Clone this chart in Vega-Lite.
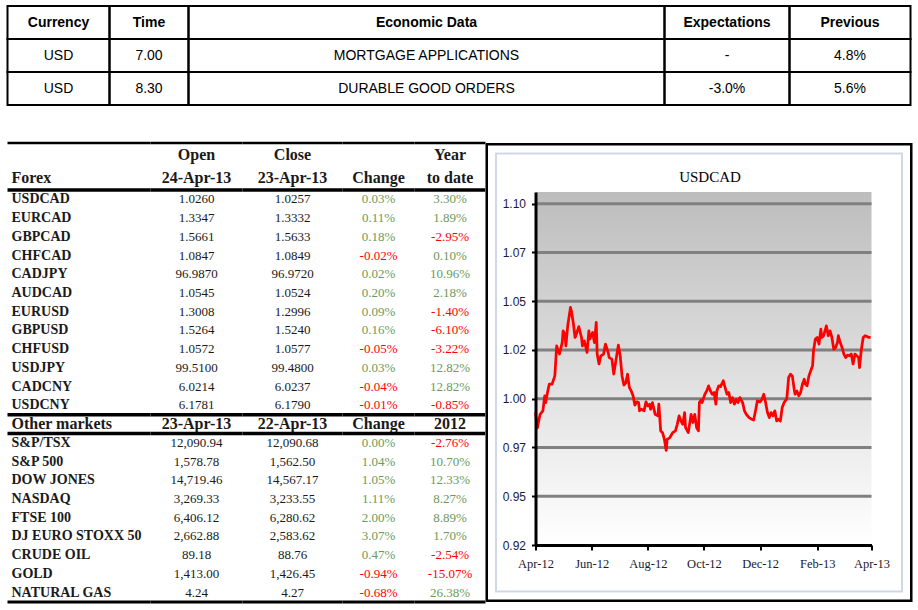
{
  "$schema": "https://vega.github.io/schema/vega-lite/v6.json",
  "background": "white",
  "padding": {"left": 5.5, "top": 5, "right": 0, "bottom": 0},
  "spacing": 35,
  "config": {"view": {"stroke": null}},
  "datasets": {
    "econ": [
      {"r": 0, "currency": "Currency", "time": "Time", "data": "Economic Data", "exp": "Expectations", "prev": "Previous"},
      {"r": 1, "currency": "USD", "time": "7.00", "data": "MORTGAGE APPLICATIONS", "exp": "-", "prev": "4.8%"},
      {"r": 2, "currency": "USD", "time": "8.30", "data": "DURABLE GOOD ORDERS", "exp": "-3.0%", "prev": "5.6%"}
    ],
    "head": [
      {"line": 1, "name": "", "open": "Open", "close": "Close", "chg": "", "ytd": "Year"},
      {"line": 2, "name": "Forex", "open": "24-Apr-13", "close": "23-Apr-13", "chg": "Change", "ytd": "to date"}
    ],
    "fx": [
      {"name": "USDCAD", "open": "1.0260", "close": "1.0257", "chg": "0.03%", "ytd": "3.30%"},
      {"name": "EURCAD", "open": "1.3347", "close": "1.3332", "chg": "0.11%", "ytd": "1.89%"},
      {"name": "GBPCAD", "open": "1.5661", "close": "1.5633", "chg": "0.18%", "ytd": "-2.95%"},
      {"name": "CHFCAD", "open": "1.0847", "close": "1.0849", "chg": "-0.02%", "ytd": "0.10%"},
      {"name": "CADJPY", "open": "96.9870", "close": "96.9720", "chg": "0.02%", "ytd": "10.96%"},
      {"name": "AUDCAD", "open": "1.0545", "close": "1.0524", "chg": "0.20%", "ytd": "2.18%"},
      {"name": "EURUSD", "open": "1.3008", "close": "1.2996", "chg": "0.09%", "ytd": "-1.40%"},
      {"name": "GBPUSD", "open": "1.5264", "close": "1.5240", "chg": "0.16%", "ytd": "-6.10%"},
      {"name": "CHFUSD", "open": "1.0572", "close": "1.0577", "chg": "-0.05%", "ytd": "-3.22%"},
      {"name": "USDJPY", "open": "99.5100", "close": "99.4800", "chg": "0.03%", "ytd": "12.82%"},
      {"name": "CADCNY", "open": "6.0214", "close": "6.0237", "chg": "-0.04%", "ytd": "12.82%"},
      {"name": "USDCNY", "open": "6.1781", "close": "6.1790", "chg": "-0.01%", "ytd": "-0.85%"},
      {"name": "Other markets", "open": "23-Apr-13", "close": "22-Apr-13", "chg": "Change", "ytd": "2012"},
      {"name": "S&P/TSX", "open": "12,090.94", "close": "12,090.68", "chg": "0.00%", "ytd": "-2.76%"},
      {"name": "S&P 500", "open": "1,578.78", "close": "1,562.50", "chg": "1.04%", "ytd": "10.70%"},
      {"name": "DOW JONES", "open": "14,719.46", "close": "14,567.17", "chg": "1.05%", "ytd": "12.33%"},
      {"name": "NASDAQ", "open": "3,269.33", "close": "3,233.55", "chg": "1.11%", "ytd": "8.27%"},
      {"name": "FTSE 100", "open": "6,406.12", "close": "6,280.62", "chg": "2.00%", "ytd": "8.89%"},
      {"name": "DJ EURO STOXX 50", "open": "2,662.88", "close": "2,583.62", "chg": "3.07%", "ytd": "1.70%"},
      {"name": "CRUDE OIL", "open": "89.18", "close": "88.76", "chg": "0.47%", "ytd": "-2.54%"},
      {"name": "GOLD", "open": "1,413.00", "close": "1,426.45", "chg": "-0.94%", "ytd": "-15.07%"},
      {"name": "NATURAL GAS", "open": "4.24", "close": "4.27", "chg": "-0.68%", "ytd": "26.38%"}
    ],
    "grid": [{"g": 0.95}, {"g": 0.975}, {"g": 1.0}, {"g": 1.025}, {"g": 1.05}, {"g": 1.075}, {"g": 1.1}],
    "one": [{}],
    "usdcad": [
      {"d": "2012-04-24", "v": 0.993}, {"d": "2012-04-26", "v": 0.985}, {"d": "2012-04-29", "v": 0.992}, {"d": "2012-05-02", "v": 0.9938},
      {"d": "2012-05-04", "v": 1.0015}, {"d": "2012-05-05", "v": 0.998}, {"d": "2012-05-07", "v": 1.0032}, {"d": "2012-05-09", "v": 1.0075},
      {"d": "2012-05-12", "v": 1.0075}, {"d": "2012-05-15", "v": 1.0117}, {"d": "2012-05-17", "v": 1.0271}, {"d": "2012-05-20", "v": 1.0229},
      {"d": "2012-05-23", "v": 1.0288}, {"d": "2012-05-24", "v": 1.0348}, {"d": "2012-05-26", "v": 1.0331}, {"d": "2012-05-27", "v": 1.0271},
      {"d": "2012-05-29", "v": 1.0374}, {"d": "2012-06-01", "v": 1.0468}, {"d": "2012-06-02", "v": 1.0451}, {"d": "2012-06-04", "v": 1.0391},
      {"d": "2012-06-06", "v": 1.0314}, {"d": "2012-06-08", "v": 1.034}, {"d": "2012-06-10", "v": 1.037}, {"d": "2012-06-13", "v": 1.0314},
      {"d": "2012-06-14", "v": 1.0271}, {"d": "2012-06-16", "v": 1.0297}, {"d": "2012-06-19", "v": 1.0237}, {"d": "2012-06-21", "v": 1.0348},
      {"d": "2012-06-22", "v": 1.0306}, {"d": "2012-06-25", "v": 1.034}, {"d": "2012-06-27", "v": 1.0288}, {"d": "2012-06-29", "v": 1.0391},
      {"d": "2012-06-30", "v": 1.0229}, {"d": "2012-07-02", "v": 1.0178}, {"d": "2012-07-04", "v": 1.022}, {"d": "2012-07-07", "v": 1.0229},
      {"d": "2012-07-09", "v": 1.028}, {"d": "2012-07-12", "v": 1.0237}, {"d": "2012-07-13", "v": 1.0211}, {"d": "2012-07-16", "v": 1.0203},
      {"d": "2012-07-18", "v": 1.0126}, {"d": "2012-07-20", "v": 1.0186}, {"d": "2012-07-23", "v": 1.0275}, {"d": "2012-07-25", "v": 1.022},
      {"d": "2012-07-27", "v": 1.0117}, {"d": "2012-07-29", "v": 1.007}, {"d": "2012-07-31", "v": 1.008}, {"d": "2012-08-02", "v": 1.0126},
      {"d": "2012-08-04", "v": 1.0057}, {"d": "2012-08-06", "v": 1.004}, {"d": "2012-08-08", "v": 1.0015}, {"d": "2012-08-10", "v": 0.9967},
      {"d": "2012-08-12", "v": 0.9984}, {"d": "2012-08-14", "v": 0.998}, {"d": "2012-08-15", "v": 0.9938}, {"d": "2012-08-17", "v": 0.9946},
      {"d": "2012-08-20", "v": 0.9938}, {"d": "2012-08-22", "v": 0.9984}, {"d": "2012-08-24", "v": 0.9963}, {"d": "2012-08-26", "v": 0.9972},
      {"d": "2012-08-27", "v": 0.9946}, {"d": "2012-08-29", "v": 0.998}, {"d": "2012-09-01", "v": 0.992}, {"d": "2012-09-04", "v": 0.9912},
      {"d": "2012-09-05", "v": 0.9972}, {"d": "2012-09-07", "v": 0.9835}, {"d": "2012-09-09", "v": 0.9826}, {"d": "2012-09-11", "v": 0.9792},
      {"d": "2012-09-13", "v": 0.9735}, {"d": "2012-09-14", "v": 0.9792}, {"d": "2012-09-17", "v": 0.9801}, {"d": "2012-09-20", "v": 0.9826},
      {"d": "2012-09-23", "v": 0.9835}, {"d": "2012-09-25", "v": 0.9869}, {"d": "2012-09-27", "v": 0.9912}, {"d": "2012-09-29", "v": 0.9886},
      {"d": "2012-10-01", "v": 0.9869}, {"d": "2012-10-03", "v": 0.9929}, {"d": "2012-10-04", "v": 0.9852}, {"d": "2012-10-07", "v": 0.9826},
      {"d": "2012-10-10", "v": 0.992}, {"d": "2012-10-12", "v": 0.9878}, {"d": "2012-10-14", "v": 0.992}, {"d": "2012-10-16", "v": 0.9852},
      {"d": "2012-10-18", "v": 0.9835}, {"d": "2012-10-19", "v": 0.998}, {"d": "2012-10-21", "v": 0.9994}, {"d": "2012-10-22", "v": 0.998},
      {"d": "2012-10-25", "v": 1.0023}, {"d": "2012-10-27", "v": 1.004}, {"d": "2012-10-29", "v": 1.0066}, {"d": "2012-10-31", "v": 1.004},
      {"d": "2012-11-02", "v": 1.0023}, {"d": "2012-11-04", "v": 1.0032}, {"d": "2012-11-06", "v": 0.9972}, {"d": "2012-11-07", "v": 1.004},
      {"d": "2012-11-09", "v": 1.0066}, {"d": "2012-11-11", "v": 1.0062}, {"d": "2012-11-14", "v": 1.0092}, {"d": "2012-11-16", "v": 1.0057},
      {"d": "2012-11-18", "v": 1.0023}, {"d": "2012-11-20", "v": 1.0032}, {"d": "2012-11-22", "v": 0.998}, {"d": "2012-11-24", "v": 1.0006},
      {"d": "2012-11-26", "v": 0.9972}, {"d": "2012-11-28", "v": 0.9997}, {"d": "2012-11-30", "v": 0.998}, {"d": "2012-12-02", "v": 1.0006},
      {"d": "2012-12-05", "v": 0.998}, {"d": "2012-12-07", "v": 0.9938}, {"d": "2012-12-09", "v": 0.992}, {"d": "2012-12-12", "v": 0.9903},
      {"d": "2012-12-15", "v": 0.9895}, {"d": "2012-12-17", "v": 0.9891}, {"d": "2012-12-19", "v": 0.9938}, {"d": "2012-12-21", "v": 0.9989},
      {"d": "2012-12-24", "v": 0.9984}, {"d": "2012-12-26", "v": 0.9997}, {"d": "2012-12-28", "v": 1.0023}, {"d": "2012-12-30", "v": 0.998},
      {"d": "2013-01-01", "v": 0.9929}, {"d": "2013-01-03", "v": 0.9903}, {"d": "2013-01-05", "v": 0.9929}, {"d": "2013-01-07", "v": 0.9912},
      {"d": "2013-01-09", "v": 0.9938}, {"d": "2013-01-11", "v": 0.9886}, {"d": "2013-01-13", "v": 0.9895}, {"d": "2013-01-15", "v": 0.9886},
      {"d": "2013-01-17", "v": 0.9955}, {"d": "2013-01-19", "v": 0.998}, {"d": "2013-01-22", "v": 1.0}, {"d": "2013-01-24", "v": 1.0109},
      {"d": "2013-01-26", "v": 1.0126}, {"d": "2013-01-28", "v": 1.0117}, {"d": "2013-01-30", "v": 1.0049}, {"d": "2013-01-31", "v": 1.0023},
      {"d": "2013-02-02", "v": 1.004}, {"d": "2013-02-04", "v": 1.0015}, {"d": "2013-02-06", "v": 1.0032}, {"d": "2013-02-08", "v": 1.0075},
      {"d": "2013-02-10", "v": 1.01}, {"d": "2013-02-11", "v": 1.0075}, {"d": "2013-02-13", "v": 1.0066}, {"d": "2013-02-15", "v": 1.0117},
      {"d": "2013-02-17", "v": 1.0143}, {"d": "2013-02-19", "v": 1.0169}, {"d": "2013-02-20", "v": 1.0246}, {"d": "2013-02-22", "v": 1.0306},
      {"d": "2013-02-24", "v": 1.0314}, {"d": "2013-02-26", "v": 1.028}, {"d": "2013-02-28", "v": 1.0357}, {"d": "2013-03-01", "v": 1.0314},
      {"d": "2013-03-03", "v": 1.0323}, {"d": "2013-03-06", "v": 1.0374}, {"d": "2013-03-08", "v": 1.0323}, {"d": "2013-03-10", "v": 1.0348},
      {"d": "2013-03-12", "v": 1.0314}, {"d": "2013-03-14", "v": 1.0254}, {"d": "2013-03-16", "v": 1.0263}, {"d": "2013-03-18", "v": 1.0288},
      {"d": "2013-03-19", "v": 1.0323}, {"d": "2013-03-21", "v": 1.0288}, {"d": "2013-03-23", "v": 1.0263}, {"d": "2013-03-25", "v": 1.0229},
      {"d": "2013-03-27", "v": 1.0211}, {"d": "2013-03-29", "v": 1.0224}, {"d": "2013-03-31", "v": 1.022}, {"d": "2013-04-02", "v": 1.0229},
      {"d": "2013-04-04", "v": 1.0178}, {"d": "2013-04-06", "v": 1.0229}, {"d": "2013-04-08", "v": 1.022}, {"d": "2013-04-10", "v": 1.0211},
      {"d": "2013-04-11", "v": 1.016}, {"d": "2013-04-13", "v": 1.0254}, {"d": "2013-04-15", "v": 1.0314}, {"d": "2013-04-17", "v": 1.0323},
      {"d": "2013-04-19", "v": 1.032}, {"d": "2013-04-21", "v": 1.0314}, {"d": "2013-04-23", "v": 1.0314}
    ]
  },
  "vconcat": [
    {
      "spacing": 0,
      "bounds": "flush",
      "hconcat": [
        {"width": 102, "height": 99, "data": {"name": "econ"},
         "encoding": {"y": {"field": "r", "type": "ordinal", "scale": {"paddingInner": 0, "paddingOuter": 0}, "axis": null}},
         "layer": [
           {"mark": {"type": "rect", "filled": false, "stroke": "#000", "strokeWidth": 2}},
           {"transform": [{"filter": "datum.r === 0"}], "mark": {"type": "text", "font": "Liberation Sans", "fontSize": 14, "fontWeight": "bold", "color": "#000"}, "encoding": {"text": {"field": "currency"}}},
           {"transform": [{"filter": "datum.r > 0"}], "mark": {"type": "text", "font": "Liberation Sans", "fontSize": 14, "color": "#000"}, "encoding": {"text": {"field": "currency"}}}
         ]},
        {"width": 79, "height": 99, "data": {"name": "econ"},
         "encoding": {"y": {"field": "r", "type": "ordinal", "scale": {"paddingInner": 0, "paddingOuter": 0}, "axis": null}},
         "layer": [
           {"mark": {"type": "rect", "filled": false, "stroke": "#000", "strokeWidth": 2}},
           {"transform": [{"filter": "datum.r === 0"}], "mark": {"type": "text", "font": "Liberation Sans", "fontSize": 14, "fontWeight": "bold", "color": "#000"}, "encoding": {"text": {"field": "time"}}},
           {"transform": [{"filter": "datum.r > 0"}], "mark": {"type": "text", "font": "Liberation Sans", "fontSize": 14, "color": "#000"}, "encoding": {"text": {"field": "time"}}}
         ]},
        {"width": 476, "height": 99, "data": {"name": "econ"},
         "encoding": {"y": {"field": "r", "type": "ordinal", "scale": {"paddingInner": 0, "paddingOuter": 0}, "axis": null}},
         "layer": [
           {"mark": {"type": "rect", "filled": false, "stroke": "#000", "strokeWidth": 2}},
           {"transform": [{"filter": "datum.r === 0"}], "mark": {"type": "text", "font": "Liberation Sans", "fontSize": 14, "fontWeight": "bold", "color": "#000"}, "encoding": {"text": {"field": "data"}}},
           {"transform": [{"filter": "datum.r > 0"}], "mark": {"type": "text", "font": "Liberation Sans", "fontSize": 14, "color": "#000"}, "encoding": {"text": {"field": "data"}}}
         ]},
        {"width": 125, "height": 99, "data": {"name": "econ"},
         "encoding": {"y": {"field": "r", "type": "ordinal", "scale": {"paddingInner": 0, "paddingOuter": 0}, "axis": null}},
         "layer": [
           {"mark": {"type": "rect", "filled": false, "stroke": "#000", "strokeWidth": 2}},
           {"transform": [{"filter": "datum.r === 0"}], "mark": {"type": "text", "font": "Liberation Sans", "fontSize": 14, "fontWeight": "bold", "color": "#000"}, "encoding": {"text": {"field": "exp"}}},
           {"transform": [{"filter": "datum.r > 0"}], "mark": {"type": "text", "font": "Liberation Sans", "fontSize": 14, "color": "#000"}, "encoding": {"text": {"field": "exp"}}}
         ]},
        {"width": 121, "height": 99, "data": {"name": "econ"},
         "encoding": {"y": {"field": "r", "type": "ordinal", "scale": {"paddingInner": 0, "paddingOuter": 0}, "axis": null}},
         "layer": [
           {"mark": {"type": "rect", "filled": false, "stroke": "#000", "strokeWidth": 2}},
           {"transform": [{"filter": "datum.r === 0"}], "mark": {"type": "text", "font": "Liberation Sans", "fontSize": 14, "fontWeight": "bold", "color": "#000"}, "encoding": {"text": {"field": "prev"}}},
           {"transform": [{"filter": "datum.r > 0"}], "mark": {"type": "text", "font": "Liberation Sans", "fontSize": 14, "color": "#000"}, "encoding": {"text": {"field": "prev"}}}
         ]}
      ]
    },
    {
      "spacing": 0,
      "bounds": "flush",
      "hconcat": [
        {"width": 143, "height": 459,
         "resolve": {"scale": {"y": "independent"}, "axis": {"y": "independent"}},
         "layer": [
           {"data": {"name": "head"},
            "encoding": {"y": {"field": "line", "type": "ordinal", "scale": {"domain": [1, 2], "range": [0, 47], "paddingInner": 0, "paddingOuter": 0}, "axis": {"orient": "left", "labels": false, "ticks": false, "title": null, "grid": false, "domainColor": "#000", "domainWidth": 3}}},
            "layer": [
              {"mark": {"type": "text", "align": "left", "font": "Liberation Serif", "fontSize": 16, "fontWeight": "bold", "color": "#1a1a1a"}, "encoding": {"x": {"value": 4}, "text": {"field": "name"}}},
              {"transform": [{"filter": "datum.line === 1"}], "mark": {"type": "rule", "strokeWidth": 2.5, "color": "#000"}, "encoding": {"y": {"field": "line", "type": "ordinal", "bandPosition": 0, "axis": null}}},
              {"transform": [{"filter": "datum.line === 2"}], "mark": {"type": "rule", "strokeWidth": 3.5, "color": "#000"}, "encoding": {"y": {"field": "line", "type": "ordinal", "bandPosition": 1, "axis": null}}}
            ]},
           {"data": {"name": "fx"},
            "encoding": {"y": {"field": "name", "type": "ordinal", "scale": {"domain": ["USDCAD","EURCAD","GBPCAD","CHFCAD","CADJPY","AUDCAD","EURUSD","GBPUSD","CHFUSD","USDJPY","CADCNY","USDCNY","Other markets","S&P/TSX","S&P 500","DOW JONES","NASDAQ","FTSE 100","DJ EURO STOXX 50","CRUDE OIL","GOLD","NATURAL GAS"], "range": [47, 459], "paddingInner": 0, "paddingOuter": 0}, "axis": {"orient": "left", "labels": false, "ticks": false, "title": null, "grid": false, "domainColor": "#000", "domainWidth": 3}}},
            "layer": [
              {"transform": [{"filter": "datum.name !== 'Other markets'"}], "mark": {"type": "text", "align": "left", "font": "Liberation Serif", "fontSize": 14, "fontWeight": "bold", "color": "#1a1a1a"}, "encoding": {"x": {"value": 4}, "text": {"field": "name"}}},
              {"transform": [{"filter": "datum.name === 'Other markets'"}], "mark": {"type": "text", "align": "left", "font": "Liberation Serif", "fontSize": 16, "fontWeight": "bold", "color": "#1a1a1a"}, "encoding": {"x": {"value": 4}, "text": {"field": "name"}}},
              {"transform": [{"filter": "datum.name === 'Other markets'"}], "mark": {"type": "rule", "strokeWidth": 3.5, "color": "#000"}, "encoding": {"y": {"field": "name", "type": "ordinal", "bandPosition": 0, "axis": null}}},
              {"transform": [{"filter": "datum.name === 'Other markets'"}], "mark": {"type": "rule", "strokeWidth": 3.5, "color": "#000"}, "encoding": {"y": {"field": "name", "type": "ordinal", "bandPosition": 1, "axis": null}}},
              {"transform": [{"filter": "datum.name === 'NATURAL GAS'"}], "mark": {"type": "rule", "strokeWidth": 3, "color": "#000"}, "encoding": {"y": {"field": "name", "type": "ordinal", "bandPosition": 1, "axis": null}}}
            ]}
         ]},
        {"width": 92, "height": 459,
         "resolve": {"scale": {"y": "independent"}, "axis": {"y": "independent"}},
         "layer": [
           {"data": {"name": "head"},
            "encoding": {"y": {"field": "line", "type": "ordinal", "scale": {"domain": [1, 2], "range": [0, 47], "paddingInner": 0, "paddingOuter": 0}, "axis": null}},
            "layer": [
              {"mark": {"type": "text", "font": "Liberation Serif", "fontSize": 16, "fontWeight": "bold", "color": "#1a1a1a"}, "encoding": {"text": {"field": "open"}}},
              {"transform": [{"filter": "datum.line === 1"}], "mark": {"type": "rule", "strokeWidth": 2.5, "color": "#000"}, "encoding": {"y": {"field": "line", "type": "ordinal", "bandPosition": 0, "axis": null}}},
              {"transform": [{"filter": "datum.line === 2"}], "mark": {"type": "rule", "strokeWidth": 3.5, "color": "#000"}, "encoding": {"y": {"field": "line", "type": "ordinal", "bandPosition": 1, "axis": null}}}
            ]},
           {"data": {"name": "fx"},
            "encoding": {"y": {"field": "name", "type": "ordinal", "scale": {"domain": ["USDCAD","EURCAD","GBPCAD","CHFCAD","CADJPY","AUDCAD","EURUSD","GBPUSD","CHFUSD","USDJPY","CADCNY","USDCNY","Other markets","S&P/TSX","S&P 500","DOW JONES","NASDAQ","FTSE 100","DJ EURO STOXX 50","CRUDE OIL","GOLD","NATURAL GAS"], "range": [47, 459], "paddingInner": 0, "paddingOuter": 0}, "axis": null}},
            "layer": [
              {"transform": [{"filter": "datum.name !== 'Other markets'"}], "mark": {"type": "text", "font": "Liberation Serif", "fontSize": 13, "color": "#1a1a1a"}, "encoding": {"text": {"field": "open"}}},
              {"transform": [{"filter": "datum.name === 'Other markets'"}], "mark": {"type": "text", "font": "Liberation Serif", "fontSize": 16, "fontWeight": "bold", "color": "#1a1a1a"}, "encoding": {"text": {"field": "open"}}},
              {"transform": [{"filter": "datum.name === 'Other markets'"}], "mark": {"type": "rule", "strokeWidth": 3.5, "color": "#000"}, "encoding": {"y": {"field": "name", "type": "ordinal", "bandPosition": 0, "axis": null}}},
              {"transform": [{"filter": "datum.name === 'Other markets'"}], "mark": {"type": "rule", "strokeWidth": 3.5, "color": "#000"}, "encoding": {"y": {"field": "name", "type": "ordinal", "bandPosition": 1, "axis": null}}},
              {"transform": [{"filter": "datum.name === 'NATURAL GAS'"}], "mark": {"type": "rule", "strokeWidth": 3, "color": "#000"}, "encoding": {"y": {"field": "name", "type": "ordinal", "bandPosition": 1, "axis": null}}}
            ]}
         ]},
        {"width": 100, "height": 459,
         "resolve": {"scale": {"y": "independent"}, "axis": {"y": "independent"}},
         "layer": [
           {"data": {"name": "head"},
            "encoding": {"y": {"field": "line", "type": "ordinal", "scale": {"domain": [1, 2], "range": [0, 47], "paddingInner": 0, "paddingOuter": 0}, "axis": null}},
            "layer": [
              {"mark": {"type": "text", "font": "Liberation Serif", "fontSize": 16, "fontWeight": "bold", "color": "#1a1a1a"}, "encoding": {"text": {"field": "close"}}},
              {"transform": [{"filter": "datum.line === 1"}], "mark": {"type": "rule", "strokeWidth": 2.5, "color": "#000"}, "encoding": {"y": {"field": "line", "type": "ordinal", "bandPosition": 0, "axis": null}}},
              {"transform": [{"filter": "datum.line === 2"}], "mark": {"type": "rule", "strokeWidth": 3.5, "color": "#000"}, "encoding": {"y": {"field": "line", "type": "ordinal", "bandPosition": 1, "axis": null}}}
            ]},
           {"data": {"name": "fx"},
            "encoding": {"y": {"field": "name", "type": "ordinal", "scale": {"domain": ["USDCAD","EURCAD","GBPCAD","CHFCAD","CADJPY","AUDCAD","EURUSD","GBPUSD","CHFUSD","USDJPY","CADCNY","USDCNY","Other markets","S&P/TSX","S&P 500","DOW JONES","NASDAQ","FTSE 100","DJ EURO STOXX 50","CRUDE OIL","GOLD","NATURAL GAS"], "range": [47, 459], "paddingInner": 0, "paddingOuter": 0}, "axis": null}},
            "layer": [
              {"transform": [{"filter": "datum.name !== 'Other markets'"}], "mark": {"type": "text", "font": "Liberation Serif", "fontSize": 13, "color": "#1a1a1a"}, "encoding": {"text": {"field": "close"}}},
              {"transform": [{"filter": "datum.name === 'Other markets'"}], "mark": {"type": "text", "font": "Liberation Serif", "fontSize": 16, "fontWeight": "bold", "color": "#1a1a1a"}, "encoding": {"text": {"field": "close"}}},
              {"transform": [{"filter": "datum.name === 'Other markets'"}], "mark": {"type": "rule", "strokeWidth": 3.5, "color": "#000"}, "encoding": {"y": {"field": "name", "type": "ordinal", "bandPosition": 0, "axis": null}}},
              {"transform": [{"filter": "datum.name === 'Other markets'"}], "mark": {"type": "rule", "strokeWidth": 3.5, "color": "#000"}, "encoding": {"y": {"field": "name", "type": "ordinal", "bandPosition": 1, "axis": null}}},
              {"transform": [{"filter": "datum.name === 'NATURAL GAS'"}], "mark": {"type": "rule", "strokeWidth": 3, "color": "#000"}, "encoding": {"y": {"field": "name", "type": "ordinal", "bandPosition": 1, "axis": null}}}
            ]}
         ]},
        {"width": 72, "height": 459,
         "resolve": {"scale": {"y": "independent"}, "axis": {"y": "independent"}},
         "layer": [
           {"data": {"name": "head"},
            "encoding": {"y": {"field": "line", "type": "ordinal", "scale": {"domain": [1, 2], "range": [0, 47], "paddingInner": 0, "paddingOuter": 0}, "axis": null}},
            "layer": [
              {"mark": {"type": "text", "font": "Liberation Serif", "fontSize": 16, "fontWeight": "bold", "color": "#1a1a1a"}, "encoding": {"text": {"field": "chg"}}},
              {"transform": [{"filter": "datum.line === 1"}], "mark": {"type": "rule", "strokeWidth": 2.5, "color": "#000"}, "encoding": {"y": {"field": "line", "type": "ordinal", "bandPosition": 0, "axis": null}}},
              {"transform": [{"filter": "datum.line === 2"}], "mark": {"type": "rule", "strokeWidth": 3.5, "color": "#000"}, "encoding": {"y": {"field": "line", "type": "ordinal", "bandPosition": 1, "axis": null}}}
            ]},
           {"data": {"name": "fx"},
            "encoding": {"y": {"field": "name", "type": "ordinal", "scale": {"domain": ["USDCAD","EURCAD","GBPCAD","CHFCAD","CADJPY","AUDCAD","EURUSD","GBPUSD","CHFUSD","USDJPY","CADCNY","USDCNY","Other markets","S&P/TSX","S&P 500","DOW JONES","NASDAQ","FTSE 100","DJ EURO STOXX 50","CRUDE OIL","GOLD","NATURAL GAS"], "range": [47, 459], "paddingInner": 0, "paddingOuter": 0}, "axis": null}},
            "layer": [
              {"transform": [{"filter": "datum.name !== 'Other markets'"}], "mark": {"type": "text", "font": "Liberation Serif", "fontSize": 13}, "encoding": {"text": {"field": "chg"}, "color": {"condition": {"test": "indexof(datum.chg, '-') === 0", "value": "#ff0000"}, "value": "#6b9a5b"}}},
              {"transform": [{"filter": "datum.name === 'Other markets'"}], "mark": {"type": "text", "font": "Liberation Serif", "fontSize": 16, "fontWeight": "bold", "color": "#1a1a1a"}, "encoding": {"text": {"field": "chg"}}},
              {"transform": [{"filter": "datum.name === 'Other markets'"}], "mark": {"type": "rule", "strokeWidth": 3.5, "color": "#000"}, "encoding": {"y": {"field": "name", "type": "ordinal", "bandPosition": 0, "axis": null}}},
              {"transform": [{"filter": "datum.name === 'Other markets'"}], "mark": {"type": "rule", "strokeWidth": 3.5, "color": "#000"}, "encoding": {"y": {"field": "name", "type": "ordinal", "bandPosition": 1, "axis": null}}},
              {"transform": [{"filter": "datum.name === 'NATURAL GAS'"}], "mark": {"type": "rule", "strokeWidth": 3, "color": "#000"}, "encoding": {"y": {"field": "name", "type": "ordinal", "bandPosition": 1, "axis": null}}}
            ]}
         ]},
        {"width": 71, "height": 459,
         "resolve": {"scale": {"y": "independent"}, "axis": {"y": "independent"}},
         "layer": [
           {"data": {"name": "head"},
            "encoding": {"y": {"field": "line", "type": "ordinal", "scale": {"domain": [1, 2], "range": [0, 47], "paddingInner": 0, "paddingOuter": 0}, "axis": null}},
            "layer": [
              {"mark": {"type": "text", "font": "Liberation Serif", "fontSize": 16, "fontWeight": "bold", "color": "#1a1a1a"}, "encoding": {"text": {"field": "ytd"}}},
              {"transform": [{"filter": "datum.line === 1"}], "mark": {"type": "rule", "strokeWidth": 2.5, "color": "#000"}, "encoding": {"y": {"field": "line", "type": "ordinal", "bandPosition": 0, "axis": null}}},
              {"transform": [{"filter": "datum.line === 2"}], "mark": {"type": "rule", "strokeWidth": 3.5, "color": "#000"}, "encoding": {"y": {"field": "line", "type": "ordinal", "bandPosition": 1, "axis": null}}}
            ]},
           {"data": {"name": "fx"},
            "encoding": {"y": {"field": "name", "type": "ordinal", "scale": {"domain": ["USDCAD","EURCAD","GBPCAD","CHFCAD","CADJPY","AUDCAD","EURUSD","GBPUSD","CHFUSD","USDJPY","CADCNY","USDCNY","Other markets","S&P/TSX","S&P 500","DOW JONES","NASDAQ","FTSE 100","DJ EURO STOXX 50","CRUDE OIL","GOLD","NATURAL GAS"], "range": [47, 459], "paddingInner": 0, "paddingOuter": 0}, "axis": null}},
            "layer": [
              {"transform": [{"filter": "datum.name !== 'Other markets'"}], "mark": {"type": "text", "font": "Liberation Serif", "fontSize": 13}, "encoding": {"text": {"field": "ytd"}, "color": {"condition": {"test": "indexof(datum.ytd, '-') === 0", "value": "#ff0000"}, "value": "#6b9a5b"}}},
              {"transform": [{"filter": "datum.name === 'Other markets'"}], "mark": {"type": "text", "font": "Liberation Serif", "fontSize": 16, "fontWeight": "bold", "color": "#1a1a1a"}, "encoding": {"text": {"field": "ytd"}}},
              {"transform": [{"filter": "datum.name === 'Other markets'"}], "mark": {"type": "rule", "strokeWidth": 3.5, "color": "#000"}, "encoding": {"y": {"field": "name", "type": "ordinal", "bandPosition": 0, "axis": null}}},
              {"transform": [{"filter": "datum.name === 'Other markets'"}], "mark": {"type": "rule", "strokeWidth": 3.5, "color": "#000"}, "encoding": {"y": {"field": "name", "type": "ordinal", "bandPosition": 1, "axis": null}}},
              {"transform": [{"filter": "datum.name === 'NATURAL GAS'"}], "mark": {"type": "rule", "strokeWidth": 3, "color": "#000"}, "encoding": {"y": {"field": "name", "type": "ordinal", "bandPosition": 1, "axis": null}}}
            ]}
         ]},
        {"width": 427, "height": 459,
         "title": {"text": "USDCAD", "font": "Liberation Serif", "fontSize": 15, "fontWeight": "normal", "color": "#000", "anchor": "middle", "offset": -42, "dx": 11},
         "resolve": {"axis": {"x": "independent", "y": "independent"}},
         "layer": [
           {"data": {"name": "one"},
            "mark": {"type": "rect", "fill": {"gradient": "linear", "x1": 0, "y1": 0, "x2": 0, "y2": 1, "stops": [{"offset": 0, "color": "#bdbdbd"}, {"offset": 1, "color": "#ffffff"}]}},
            "encoding": {
              "x": {"datum": {"year": 2012, "month": 4, "date": 24, "utc": true}, "type": "temporal", "scale": {"type": "utc", "domain": [{"year": 2012, "month": 4, "date": 24, "utc": true}, {"year": 2013, "month": 4, "date": 24, "utc": true}], "range": [50, 386], "nice": false}, "axis": null},
              "x2": {"datum": {"year": 2013, "month": 4, "date": 24, "utc": true}},
              "y": {"datum": 0.925, "type": "quantitative", "scale": {"domain": [0.925, 1.106], "range": [402, 49], "zero": false, "nice": false}, "axis": null},
              "y2": {"datum": 1.106}
            }},
           {"data": {"name": "grid"},
            "mark": {"type": "rule", "stroke": "#808080", "strokeWidth": 3},
            "encoding": {
              "x": {"datum": {"year": 2012, "month": 4, "date": 24, "utc": true}, "type": "temporal", "axis": null},
              "x2": {"datum": {"year": 2013, "month": 4, "date": 24, "utc": true}},
              "y": {"field": "g", "type": "quantitative", "axis": null}
            }},
           {"data": {"name": "usdcad"},
            "mark": {"type": "line", "stroke": "#ff0000", "strokeWidth": 2.75, "strokeJoin": "round"},
            "encoding": {
              "x": {"field": "d", "type": "temporal",
                    "axis": {"orient": "bottom", "offset": -57, "title": null, "grid": false, "zindex": 1,
                             "values": [{"year": 2012, "month": 4, "date": 24, "utc": true}, {"year": 2012, "month": 6, "date": 24, "utc": true}, {"year": 2012, "month": 8, "date": 24, "utc": true}, {"year": 2012, "month": 10, "date": 24, "utc": true}, {"year": 2012, "month": 12, "date": 24, "utc": true}, {"year": 2013, "month": 2, "date": 24, "utc": true}, {"year": 2013, "month": 4, "date": 24, "utc": true}],
                             "format": "%b-%y", "labelFlush": false, "labelOverlap": false,
                             "domainColor": "#000", "domainWidth": 3, "tickColor": "#000", "tickWidth": 2, "tickSize": 5,
                             "labelFont": "Liberation Serif", "labelFontSize": 12.5, "labelColor": "#1a1a2e", "labelPadding": 7}},
              "y": {"field": "v", "type": "quantitative",
                    "axis": {"orient": "left", "offset": -50, "title": null, "grid": false, "zindex": 1,
                             "values": [0.925, 0.95, 0.975, 1.0, 1.025, 1.05, 1.075, 1.1],
                             "labelExpr": "format(floor(datum.value * 100 + 0.001) / 100, '.2f')",
                             "domainColor": "#000", "domainWidth": 3, "tickColor": "#000", "tickWidth": 2, "tickSize": 4,
                             "labelFont": "Liberation Sans Narrow, Liberation Sans", "labelFontSize": 12, "labelColor": "#1a1a40", "labelPadding": 6}}
            }},
           {"data": {"name": "one"}, "mark": {"type": "rect", "filled": false, "stroke": "#d0d8e6", "strokeWidth": 23, "clip": true}},
           {"data": {"name": "one"}, "mark": {"type": "rect", "filled": false, "stroke": "#ffffff", "strokeWidth": 19, "clip": true}},
           {"data": {"name": "one"}, "mark": {"type": "rect", "filled": false, "stroke": "#000000", "strokeWidth": 5, "clip": true}}
         ]}
      ]
    }
  ]
}
